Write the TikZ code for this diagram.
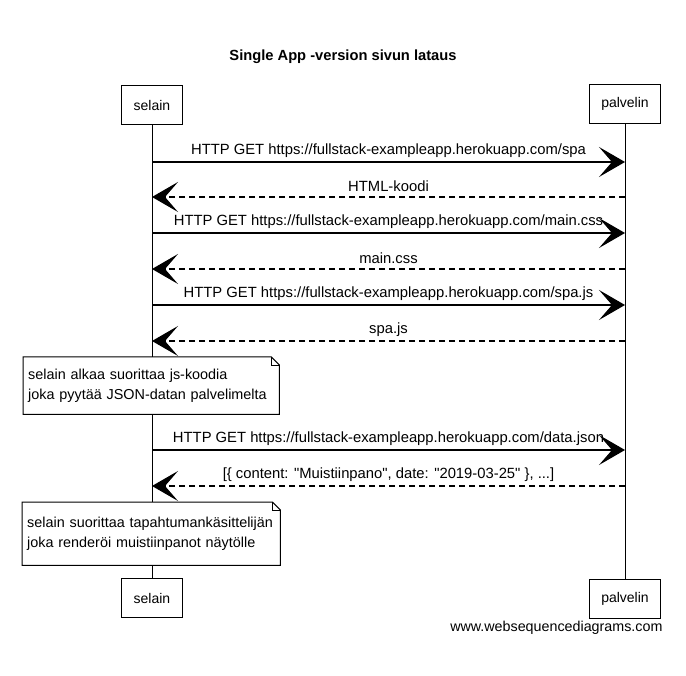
\documentclass[tikz,border=0pt]{standalone}
\usepackage{fontspec}
\setmainfont{Liberation Sans}
\usetikzlibrary{arrows.meta}

\begin{document}
\begin{tikzpicture}[x=1pt, y=-1pt,
  actor/.style={draw, line width=1.4pt, fill=white, minimum height=39,
                inner sep=2pt, font=\fontsize{14}{16}\selectfont},
  note/.style={fill=white, anchor=north west, text width=248, inner xsep=5,
               minimum height=57, align=left, font=\fontsize{14.4}{20}\selectfont},
  msg/.style={line width=1.1pt, -{Stealth[length=26pt, width=30pt, inset=13pt]}},
  ret/.style={msg, dash pattern=on 6pt off 4pt},
  lbl/.style={midway, above=1pt, font=\fontsize{14.8}{16}\selectfont},
  life/.style={line width=0.8pt}
]
\useasboundingbox (0,0) rectangle (686,676);

\node[font=\bfseries\fontsize{14.7}{16}\selectfont] (title) at (343,57) {Single App -version sivun lataus};

% osallistujat
\node[actor, minimum width=61] (sel)  at (152,105) {selain};
\node[actor, minimum width=71] (pal)  at (625,104) {palvelin};
\node[actor, minimum width=61] (sel2) at (152,598) {selain};
\node[actor, minimum width=71] (pal2) at (625,599) {palvelin};
\draw[life] (sel) -- (sel2);
\draw[life] (pal) -- (pal2);

% viestien paatepisteet
\foreach \i/\yy in {1/162, 2/197, 3/233, 4/269, 5/305, 6/341, 7/450, 8/486} {
  \coordinate (s\i) at (152,\yy);
  \coordinate (p\i) at (625,\yy);
}

\draw[msg] (s1) -- (p1) node[lbl] {HTTP GET https://fullstack-exampleapp.herokuapp.com/spa};
\draw[ret] (p2) -- (s2) node[lbl] {HTML-koodi};
\draw[msg] (s3) -- (p3) node[lbl] {HTTP GET https://fullstack-exampleapp.herokuapp.com/main.css};
\draw[ret] (p4) -- (s4) node[lbl] {main.css};
\draw[msg] (s5) -- (p5) node[lbl] {HTTP GET https://fullstack-exampleapp.herokuapp.com/spa.js};
\draw[ret] (p6) -- (s6) node[lbl] {spa.js};
\draw[msg] (s7) -- (p7) node[lbl] {HTTP GET https://fullstack-exampleapp.herokuapp.com/data.json};
\draw[ret] (p8) -- (s8) node[lbl] {[\{ content: \textquotedbl Muistiinpano\textquotedbl, date: \textquotedbl 2019-03-25\textquotedbl\ \}, ...]};

% huomautukset
\node[note, text width=246] (n1) at (23,357) {selain alkaa suorittaa js-koodia\\joka pyytää JSON-datan palvelimelta};
\node[note, minimum height=63] (n2) at (22,502) {selain suorittaa tapahtumankäsittelijän\\joka renderöi muistiinpanot näytölle};
\foreach \n in {n1, n2} {
  \draw[line width=1pt] (\n.north west) -- ([xshift=-8pt]\n.north east)
    -- ([yshift=-8pt]\n.north east) -- (\n.south east) -- (\n.south west) -- cycle;
  \draw[line width=0.8pt] ([xshift=-8pt]\n.north east) -- ([xshift=-8pt, yshift=-8pt]\n.north east)
    -- ([yshift=-8pt]\n.north east);
}

\node[anchor=east, font=\fontsize{14.3}{16}\selectfont] (wsd) at (666,628) {www.websequencediagrams.com};
\end{tikzpicture}
\end{document}
